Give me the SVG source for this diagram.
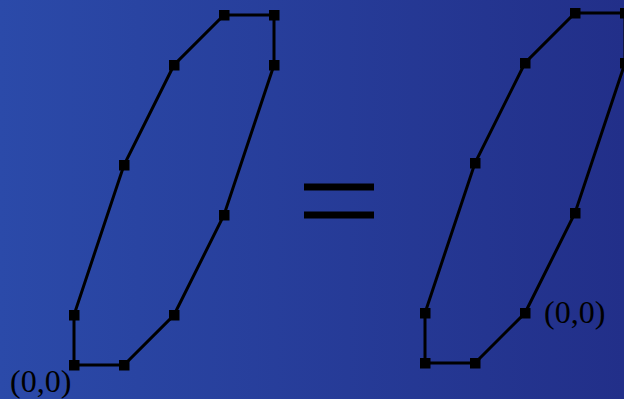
<svg xmlns="http://www.w3.org/2000/svg" width="624" height="399" viewBox="0 0 624 399">
<defs>
<linearGradient id="bg" x1="0" y1="0" x2="1" y2="0">
<stop offset="0" stop-color="#2b4aa9"/>
<stop offset="1" stop-color="#222f89"/>
</linearGradient>
<marker id="sq" viewBox="0 0 11 11" refX="5.5" refY="5.5" markerWidth="11" markerHeight="11" markerUnits="userSpaceOnUse">
<rect width="11" height="11" fill="#000"/>
</marker>
</defs>
<style>
.poly{fill:none;stroke:#000;stroke-width:3;stroke-linejoin:miter;marker-start:url(#sq);marker-mid:url(#sq);}
.lbl{font-family:"Liberation Serif","Times New Roman",serif;font-size:32px;fill:#000;}
.eq{fill:#000;}
</style>
<rect width="624" height="399" fill="url(#bg)"/>
<g id="connectors">
<polygon id="left-shape" class="poly" points="74,365 124,365 174,315 224,215 274,65 274,15 224,15 174,65 124,165 74,315"/>
<polygon id="right-shape" class="poly" points="425,363 475,363 525,313 575,213 625,63 625,13 575,13 525,63 475,163 425,313"/>
</g>
<g id="equals">
<rect class="eq" x="304" y="183.5" width="70" height="7"/>
<rect class="eq" x="304" y="211.5" width="70" height="7"/>
</g>
<g id="label-left"><text class="lbl" x="10" y="392">(0,0)</text></g>
<g id="label-right"><text class="lbl" x="544" y="323">(0,0)</text></g>
</svg>
